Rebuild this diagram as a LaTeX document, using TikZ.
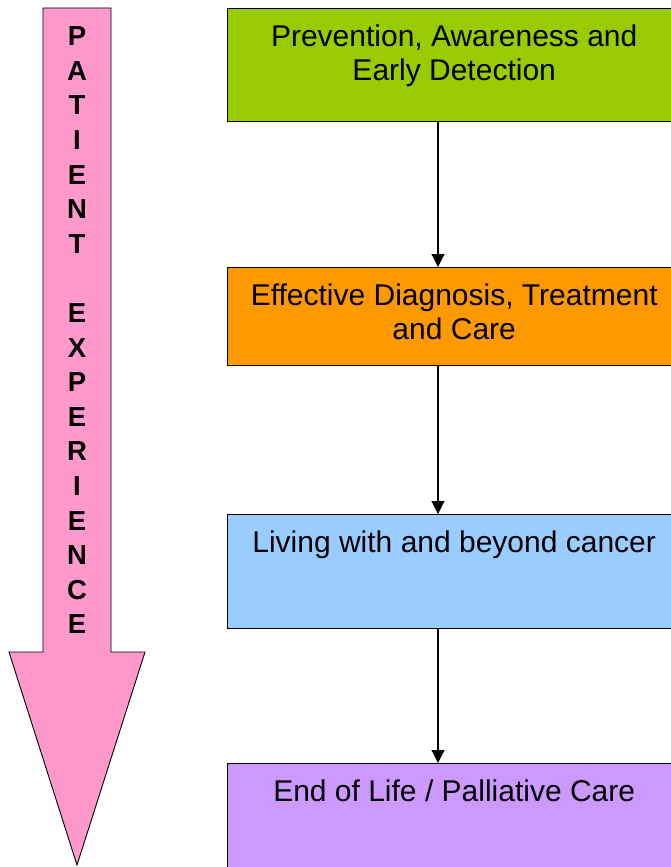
\documentclass[tikz,border=0pt]{standalone}
\usepackage{fontspec}
\setmainfont{Liberation Sans}
\usetikzlibrary{arrows.meta}
\definecolor{cgreen}{HTML}{99CC00}
\definecolor{corange}{HTML}{FF9900}
\definecolor{cblue}{HTML}{99CCFF}
\definecolor{cpurple}{HTML}{CC99FF}
\definecolor{cpink}{HTML}{FF99CC}
\tikzset{
  stagebox/.style={draw=black, line width=1.4pt, minimum width=453pt, anchor=north west, inner sep=0pt},
  stagetext/.style={anchor=north, inner sep=0pt, align=center, font=\fontsize{30}{34}\selectfont},
  conn/.style={line width=1.1pt, -{Triangle[length=13pt,width=13pt]}},
  bigarrow/.style={fill=cpink, draw=black, line width=0.9pt, line join=miter},
  arrowtext/.style={anchor=north, inner sep=0pt, align=center, font=\fontsize{27.5}{34.6}\selectfont\bfseries}
}
\begin{document}
\begin{tikzpicture}[x=1pt,y=-1pt]
\useasboundingbox (0,0) rectangle (671,867);
\clip (0,0) rectangle (671,867);
% big pink arrow
\draw[bigarrow] (43,8) -- (111,8) -- (111,652) -- (145,652) -- (77,865) -- (9,652) -- (43,652) -- cycle;
\node[arrowtext] (pe) at (77,26.5) {P\\A\\T\\I\\E\\N\\T\\\mbox{}\\E\\X\\P\\E\\R\\I\\E\\N\\C\\E};
% boxes
\node[stagebox, fill=cgreen, minimum height=113pt] (b1) at (227,8) {};
\node[stagebox, fill=corange, minimum height=98pt] (b2) at (227,267) {};
\node[stagebox, fill=cblue, minimum height=114pt] (b3) at (227,514) {};
\node[stagebox, fill=cpurple, minimum height=130pt] (b4) at (227,763) {};
\node[stagetext] (t1) at ([yshift=-16.5pt]b1.north) {Prevention, Awareness and\\Early Detection};
\node[stagetext] (t2) at ([yshift=-16.5pt]b2.north) {Effective Diagnosis, Treatment\\and Care};
\node[stagetext] (t3) at ([yshift=-16.5pt]b3.north) {Living with and beyond cancer};
\node[stagetext] (t4) at ([yshift=-16.5pt]b4.north) {End of Life / Palliative Care};
% connectors
\coordinate (cx) at (438,0);
\draw[conn] (b1.south -| cx) -- (b2.north -| cx);
\draw[conn] (b2.south -| cx) -- (b3.north -| cx);
\draw[conn] (b3.south -| cx) -- (b4.north -| cx);
\end{tikzpicture}
\end{document}
